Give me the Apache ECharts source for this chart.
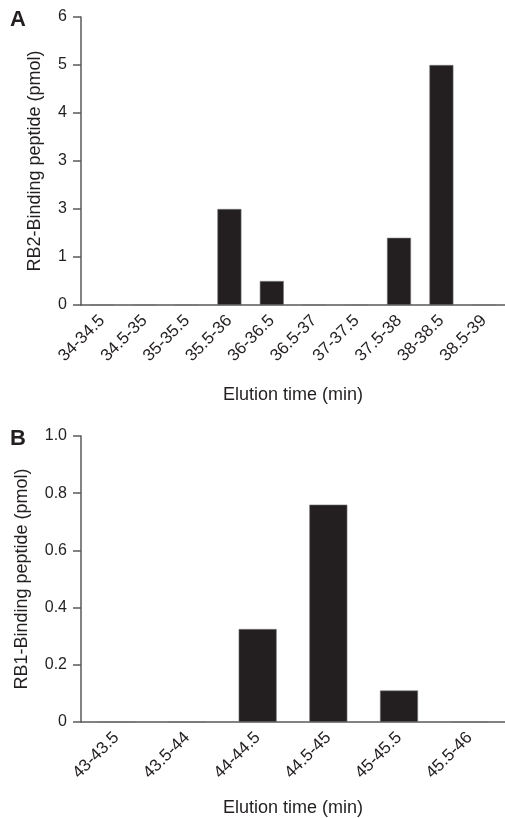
<!DOCTYPE html>
<html lang="en">
<head>
  <meta charset="UTF-8" />
  <title>RB2 / RB1 binding peptide elution</title>
  <script src="https://cdn.jsdelivr.net/npm/echarts@6/dist/echarts.min.js"></script>
  <style>
    body { margin: 0; background: #fff; }
    #chart { width: 505px; height: 818px; }
  </style>
</head>
<body>
  <div id="chart"></div>
  <script>
    // panel A data
    const catsA = ['34-34.5', '34.5-35', '35-35.5', '35.5-36', '36-36.5', '36.5-37', '37-37.5', '37.5-38', '38-38.5', '38.5-39'];
    const valsA = [0, 0, 0, 2, 0.5, 0, 0, 1.4, 5, 0];
    // tick labels as printed (the original figure has "3" twice)
    const yTicksA = ['0', '1', '3', '3', '4', '5', '6'];

    // panel B data
    const catsB = ['43-43.5', '43.5-44', '44-44.5', '44.5-45', '45-45.5', '45.5-46'];
    const valsB = [0, 0, 0.325, 0.76, 0.11, 0];
    const yTicksB = ['0', '0.2', '0.4', '0.6', '0.8', '1.0'];

    const FONT = '"Liberation Sans", Arial, sans-serif';
    const INK = '#231f20';
    const AXIS = '#5a5a5a';

    const chart = echarts.init(document.getElementById('chart'));

    const xAxisCommon = {
      type: 'category',
      axisLine: { lineStyle: { color: AXIS, width: 1.5 } },
      axisTick: { alignWithLabel: true, length: 9, lineStyle: { color: AXIS, width: 1.5 } },
      axisLabel: { rotate: 45, fontSize: 17, color: INK, fontFamily: FONT, margin: 13, interval: 0 },
      name: 'Elution time (min)',
      nameLocation: 'middle',
      nameTextStyle: { fontSize: 18, color: INK, fontFamily: FONT }
    };
    const yAxisCommon = {
      type: 'value',
      splitLine: { show: false },
      axisLine: { show: true, lineStyle: { color: AXIS, width: 1.5 } },
      axisTick: { show: true, length: 8, lineStyle: { color: AXIS, width: 1.5 } },
      nameLocation: 'middle',
      nameTextStyle: { fontSize: 18, color: INK, fontFamily: FONT }
    };
    const barStyle = { color: INK, borderColor: '#777', borderWidth: 0.6 };

    chart.setOption({
      animation: false,
      title: [
        { text: 'A', left: 10, top: 9, padding: 0, textStyle: { fontSize: 22, fontWeight: 'bold', color: INK, fontFamily: FONT } },
        { text: 'B', left: 10, top: 428, padding: 0, textStyle: { fontSize: 22, fontWeight: 'bold', color: INK, fontFamily: FONT } }
      ],
      grid: [
        { left: 81, top: 17, width: 431, height: 288 },
        { left: 81, top: 436, width: 431, height: 286 }
      ],
      xAxis: [
        Object.assign({}, xAxisCommon, { gridIndex: 0, data: catsA, nameGap: 81 }),
        Object.assign({}, xAxisCommon, { gridIndex: 1, data: catsB, nameGap: 77 })
      ],
      yAxis: [
        Object.assign({}, yAxisCommon, {
          gridIndex: 0, min: 0, max: 6, interval: 1,
          name: 'RB2-Binding peptide (pmol)', nameGap: 37,
          axisLabel: { fontSize: 16, color: INK, fontFamily: FONT, margin: 14,
            formatter: (v) => yTicksA[Math.round(v)] }
        }),
        Object.assign({}, yAxisCommon, {
          gridIndex: 1, min: 0, max: 1, interval: 0.2,
          name: 'RB1-Binding peptide (pmol)', nameGap: 50,
          axisLabel: { fontSize: 16, color: INK, fontFamily: FONT, margin: 14,
            formatter: (v) => yTicksB[Math.round(v * 5)] }
        })
      ],
      series: [
        { type: 'bar', xAxisIndex: 0, yAxisIndex: 0, data: valsA, barWidth: 24, itemStyle: barStyle },
        { type: 'bar', xAxisIndex: 1, yAxisIndex: 1, data: valsB, barWidth: 38, itemStyle: barStyle }
      ]
    });
  </script>
</body>
</html>
